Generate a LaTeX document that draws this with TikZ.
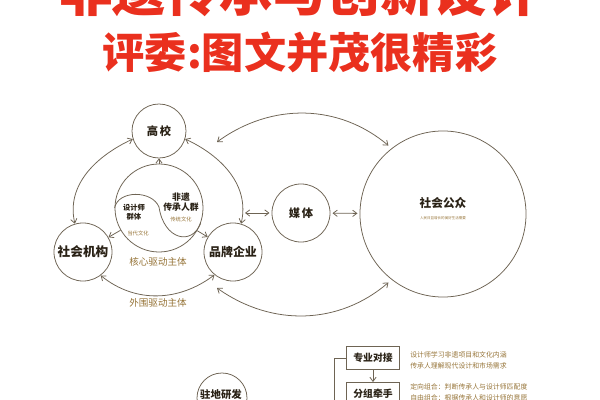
\documentclass[tikz,border=0pt]{standalone}
\usepackage{fontspec}
\setmainfont{Noto Sans CJK SC}
\usepackage{xcolor}
\usepackage{tikz}
\usetikzlibrary{positioning}
\usetikzlibrary{calc}
\usetikzlibrary{arrows.meta}
\definecolor{titlered}{RGB}{234,48,30}
\definecolor{linegray}{RGB}{110,100,84}
\definecolor{inkdark}{RGB}{42,34,22}
\definecolor{goldtext}{RGB}{150,116,56}
\tikzset{
    >={Straight Barb[length=3pt,width=4.5pt]},
    thin line/.style={draw=linegray,line width=0.55pt},
    ring node/.style={shape=circle,thin line,inner sep=0pt,text=inkdark,font=\bfseries},
    box node/.style={shape=rectangle,thin line,minimum width=1.33cm,minimum height=0.58cm,inner sep=0pt,text=inkdark,font=\fontsize{7}{8}\selectfont\bfseries},
    dark text/.style={text=inkdark,align=center,inner sep=0pt,font=\bfseries},
    gold text/.style={text=goldtext,inner sep=0pt},
    title text/.style={text=titlered,inner sep=0pt,font=\bfseries}
}

\begin{document}
\begin{tikzpicture}[x=0.025cm,y=-0.025cm]
    \useasboundingbox (0,0) rectangle (600,400);
    % title
    \node(title1)[title text,font=\fontsize{38}{40}\selectfont\bfseries] at (300,-9) {非遗传承与创新设计};
    \node(title2)[title text,font=\fontsize{30}{32}\selectfont\bfseries] at (300,52) {评委:图文并茂很精彩};

    % triangle of subjects
    \node(school)[ring node,minimum size=1.35cm,font=\fontsize{8}{9}\selectfont\bfseries] at (159,131) {高\,校};
    \node(org)[ring node,minimum size=1.45cm,font=\fontsize{9}{10}\selectfont\bfseries] at (83,252) {社会机构};
    \node(brand)[ring node,minimum size=1.45cm,font=\fontsize{8.5}{10}\selectfont\bfseries] at (233,252) {品牌企业};
    \node(core)[ring node,minimum size=2.2cm] at (159,208) {};
    \draw[thin line] (core.west) .. controls (118,190) and (152,190) .. (159,207)
        .. controls (164,240) and (192,246) .. (core.-20);
    \node(designer)[dark text,font=\fontsize{5.2}{6.5}\selectfont\bfseries] at (134,212) {设计师\\群体};
    \node(modern)[gold text,font=\fontsize{3.8}{4}\selectfont] at (138,233) {当代文化};
    \node(heir)[dark text,font=\fontsize{6.3}{7.5}\selectfont\bfseries] at (181,202) {非遗\\传承人群};
    \node(tradition)[gold text,font=\fontsize{3.8}{4}\selectfont] at (181,219) {传统文化};
    \node(coretext)[gold text,font=\fontsize{6.8}{8}\selectfont] at (158,262) {核心驱动主体};
    \node(outertext)[gold text,font=\fontsize{6.8}{8}\selectfont] at (158,303) {外围驱动主体};

    \draw[thin line,->] (core) -- (school);
    \draw[thin line,->] (core) -- (org);
    \draw[thin line,->] (core) -- (brand);
    \draw[thin line,<->] (school.197) to[out=205,in=103] (org.106);
    \draw[thin line,<->] (school.-17) to[out=-25,in=77] (brand.74);
    \draw[thin line,<->] (org.-53) to[out=-39,in=217] (brand.231);

    % media and public
    \node(media)[ring node,minimum size=1.45cm,font=\fontsize{8}{9}\selectfont\bfseries] at (301,213) {媒\,体};
    \node(public)[ring node,minimum size=4.15cm] at (443,214) {};
    \node(publictext)[dark text,font=\fontsize{8.3}{9}\selectfont\bfseries] at (443,203) {社会公众};
    \node(needtext)[gold text,font=\fontsize{2.5}{3}\selectfont] at (443,218) {人民日益增长的美好生活需要};
    \coordinate(leftend) at (245,213);
    \draw[thin line,<->,shorten <=1.5pt] (media.west) -- (leftend);
    \draw[thin line,<->,shorten <=1.5pt,shorten >=1.5pt] (media) -- (public);
    \coordinate(upperend) at (217,142);
    \coordinate(lowerend) at (217,288);
    \draw[thin line,<->,shorten >=3pt] (upperend) to[bend left=38] (public.128);
    \draw[thin line,<->,shorten >=3pt] (lowerend) to[bend right=38] (public.232);

    % lower part
    \node(resident)[ring node,minimum size=1.25cm,font=\fontsize{7.4}{8}\selectfont\bfseries] at (222,398) {};
    \node(residenttext)[dark text,font=\fontsize{7.4}{8}\selectfont\bfseries] at (221,395) {驻地研发};
    \node(dock)[box node] at (373,358) {专业对接};
    \node(group)[box node] at (373,394) {分组牵手};
    \draw[thin line,->] (dock) -- (group);
    \coordinate(bracket) at (334,410);
    \draw[thin line] (dock.west) -| (bracket);
    \node(dock1)[gold text,anchor=west,font=\fontsize{4.9}{5}\selectfont] at (410,355) {设计师学习非遗项目和文化内涵};
    \node(dock2)[gold text,anchor=west,font=\fontsize{4.9}{5}\selectfont] at (410,366) {传承人理解现代设计和市场需求};
    \node(group1)[gold text,anchor=west,font=\fontsize{4.9}{5}\selectfont] at (410,387) {定向组合：判断传承人与设计师匹配度};
    \node(group2)[gold text,anchor=west,font=\fontsize{4.9}{5}\selectfont] at (410,398) {自由组合：根据传承人和设计师的意愿};
\end{tikzpicture}
\end{document}
